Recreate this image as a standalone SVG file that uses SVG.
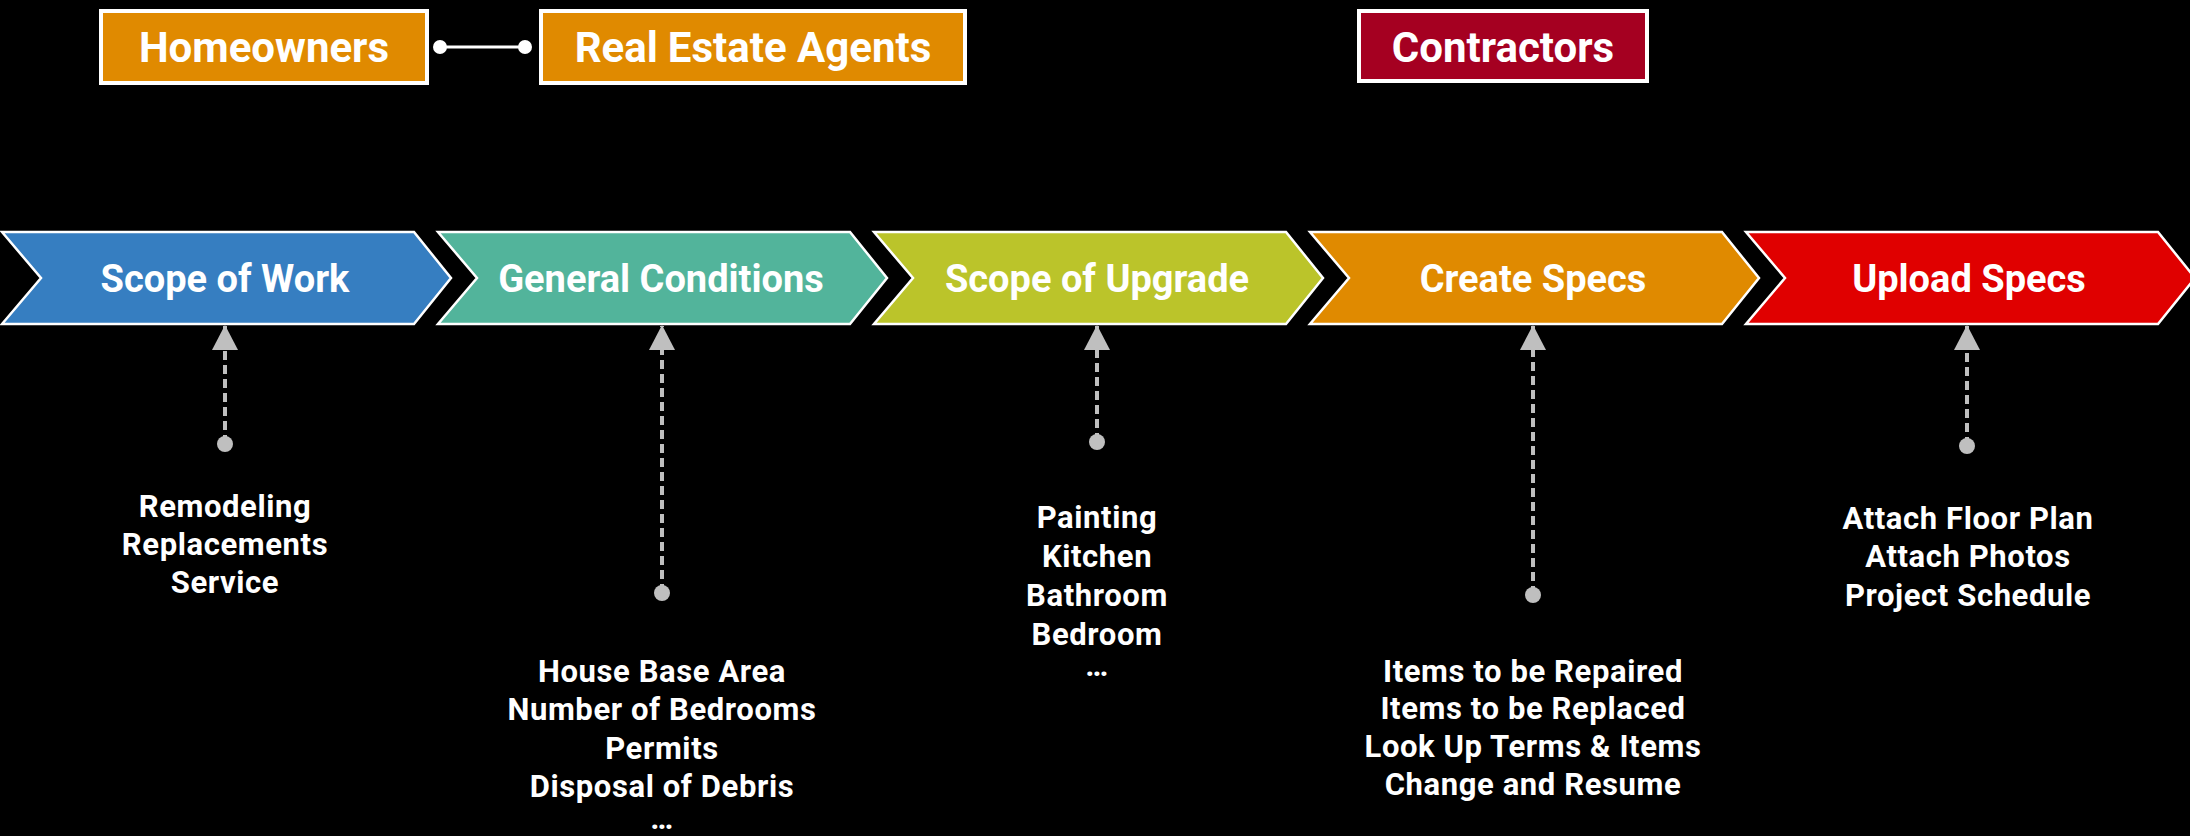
<svg xmlns="http://www.w3.org/2000/svg" width="2190" height="836" viewBox="0 0 2190 836">
<defs>
<style>
.t{font-family:Roboto,"Liberation Sans",sans-serif;font-weight:bold;fill:#fff;text-anchor:middle}
.top{font-size:42px}
.chev{font-size:38px}
.sub{font-size:31px;letter-spacing:0.6px}
.box{stroke:#fff;stroke-width:4}
.chv{stroke:#fff;stroke-width:2.5}
.dash{stroke:#BFBFBF;stroke-width:4;stroke-dasharray:9 5;fill:none}
.dot{fill:#BFBFBF}
</style>
<marker id="ah" viewBox="0 0 25 26" refX="24" refY="13" markerWidth="25" markerHeight="26" markerUnits="userSpaceOnUse" orient="auto">
<path d="M0,0 L25,13 L0,26 Z" fill="#BFBFBF"/>
</marker>
</defs>
<rect width="2190" height="836" fill="#000"/>

<g id="homeowners">
<rect class="box" x="101" y="11" width="326" height="72" fill="#E08A00"/>
<text class="t top" x="264" y="62">Homeowners</text>
</g>
<g id="agents">
<rect class="box" x="541" y="11" width="424" height="72" fill="#E08A00"/>
<text class="t top" x="753" y="62">Real<tspan dx="10">Estate Agents</tspan></text>
</g>
<g id="contractors">
<rect class="box" x="1359" y="11" width="288" height="70" fill="#A50021"/>
<text class="t top" x="1503" y="62">Contractors</text>
</g>

<g id="step1">
<polygon class="chv" points="2,232 414,232 451,278 414,324 2,324 41,278" fill="#367EC1"/>
<text class="t chev" x="225" y="292">Scope of Work</text>
</g>
<g id="step2">
<polygon class="chv" points="438,232 850,232 887,278 850,324 438,324 477,278" fill="#52B49B"/>
<text class="t chev" x="661" y="292">General Conditions</text>
</g>
<g id="step3">
<polygon class="chv" points="874,232 1286,232 1323,278 1286,324 874,324 913,278" fill="#BBC42A"/>
<text class="t chev" x="1097" y="292">Scope of Upgrade</text>
</g>
<g id="step4">
<polygon class="chv" points="1310,232 1722,232 1759,278 1722,324 1310,324 1349,278" fill="#E08A00"/>
<text class="t chev" x="1533" y="292">Create Specs</text>
</g>
<g id="step5">
<polygon class="chv" points="1746,232 2158,232 2195,278 2158,324 1746,324 1785,278" fill="#E00000"/>
<text class="t chev" x="1969" y="292">Upload Specs</text>
</g>

<g id="details1">
<text class="t sub" x="225" y="517">Remodeling</text>
<text class="t sub" x="225" y="555">Replacements</text>
<text class="t sub" x="225" y="593">Service</text>
</g>
<g id="details2">
<text class="t sub" x="662" y="682">House Base Area</text>
<text class="t sub" x="662" y="720">Number of Bedrooms</text>
<text class="t sub" x="662" y="759">Permits</text>
<text class="t sub" x="662" y="797">Disposal of Debris</text>
<text class="t sub" x="662" y="829" letter-spacing="3">…</text>
</g>
<g id="details3">
<text class="t sub" x="1097" y="528">Painting</text>
<text class="t sub" x="1097" y="567">Kitchen</text>
<text class="t sub" x="1097" y="606">Bathroom</text>
<text class="t sub" x="1097" y="645">Bedroom</text>
<text class="t sub" x="1097" y="676" letter-spacing="3">…</text>
</g>
<g id="details4">
<text class="t sub" x="1533" y="682">Items to be Repaired</text>
<text class="t sub" x="1533" y="719">Items to be Replaced</text>
<text class="t sub" x="1533" y="757">Look Up Terms &amp; Items</text>
<text class="t sub" x="1533" y="795">Change and Resume</text>
</g>
<g id="details5">
<text class="t sub" x="1968" y="529">Attach Floor Plan</text>
<text class="t sub" x="1968" y="567">Attach Photos</text>
<text class="t sub" x="1968" y="606">Project Schedule</text>
</g>

<g id="connectors">
<line x1="440" y1="47" x2="525" y2="47" stroke="#fff" stroke-width="3"/>
<circle cx="440" cy="47" r="7" fill="#fff"/>
<circle cx="525" cy="47" r="7" fill="#fff"/>

<line class="dash" x1="225" y1="444" x2="225" y2="326" marker-end="url(#ah)"/>
<circle class="dot" cx="225" cy="444" r="8"/>
<line class="dash" x1="662" y1="593" x2="662" y2="326" marker-end="url(#ah)"/>
<circle class="dot" cx="662" cy="593" r="8"/>
<line class="dash" x1="1097" y1="442" x2="1097" y2="326" marker-end="url(#ah)"/>
<circle class="dot" cx="1097" cy="442" r="8"/>
<line class="dash" x1="1533" y1="595" x2="1533" y2="326" marker-end="url(#ah)"/>
<circle class="dot" cx="1533" cy="595" r="8"/>
<line class="dash" x1="1967" y1="446" x2="1967" y2="326" marker-end="url(#ah)"/>
<circle class="dot" cx="1967" cy="446" r="8"/>
</g>
</svg>
